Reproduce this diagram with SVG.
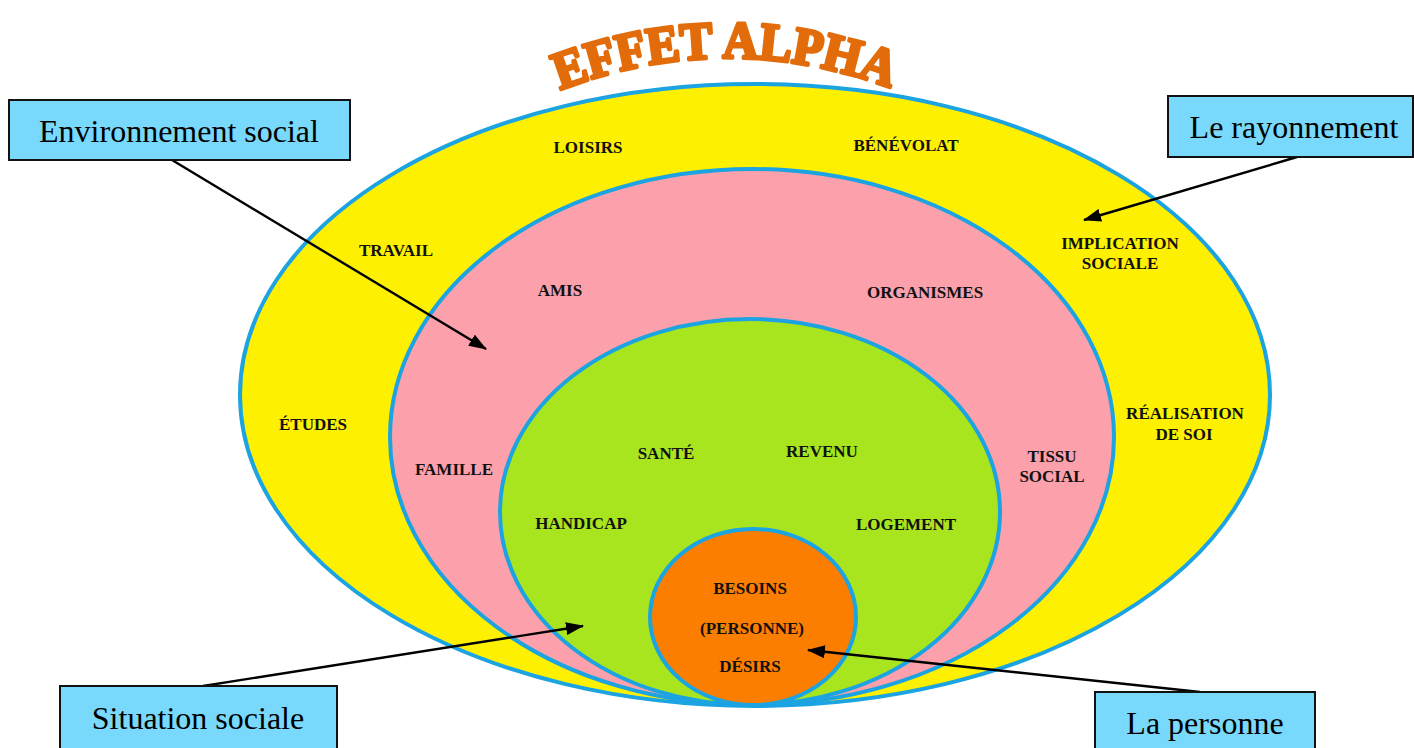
<svg xmlns="http://www.w3.org/2000/svg" width="1414" height="748" viewBox="0 0 1414 748">
<style>
.ring{stroke:#1ba3e2;stroke-width:4}
.lbl{font-family:"Liberation Serif",serif;font-weight:bold;font-size:17px;fill:#111;text-anchor:middle}
.box rect{fill:#79d9fc;stroke:#111;stroke-width:2}
.box text{font-family:"Liberation Serif",serif;font-size:32px;fill:#000;text-anchor:middle}
.conn line{stroke:#000;stroke-width:2.4}
.title{font-family:"Liberation Serif",serif;font-weight:bold;font-size:53px;fill:#e36c0a;stroke:#e36c0a;stroke-width:3.5;stroke-linejoin:round}
</style>
<defs>
<marker id="ah" markerWidth="18" markerHeight="13" refX="17" refY="6.5" orient="auto" markerUnits="userSpaceOnUse" viewBox="0 0 18 13">
<path d="M0,0 L18,6.5 L0,13 Z" fill="#000"/>
</marker>
<path id="arc" d="M 560 90 Q 728 26 896 90"/>
</defs>
<rect width="1414" height="748" fill="#fff"/>
<g id="title"><text class="title"><textPath href="#arc" textLength="338" lengthAdjust="spacingAndGlyphs">EFFET ALPHA</textPath></text></g>
<g id="rayonnement-ring"><ellipse class="ring" cx="755" cy="395" rx="515" ry="311" fill="#fdf000"/></g>
<g id="environnement-ring"><ellipse class="ring" cx="752" cy="437" rx="362" ry="268" fill="#fca0ab"/></g>
<g id="situation-ring"><ellipse class="ring" cx="750" cy="512" rx="250" ry="193" fill="#a8e51f"/></g>
<g id="personne-ring"><ellipse class="ring" cx="753" cy="617" rx="103" ry="88" fill="#fb7e00"/></g>
<g id="labels">
<text class="lbl" x="588" y="153">LOISIRS</text>
<text class="lbl" x="906" y="151">BÉNÉVOLAT</text>
<text class="lbl" x="396" y="256">TRAVAIL</text>
<text class="lbl" x="1120" y="249">IMPLICATION</text>
<text class="lbl" x="1120" y="269">SOCIALE</text>
<text class="lbl" x="560" y="296">AMIS</text>
<text class="lbl" x="925" y="298">ORGANISMES</text>
<text class="lbl" x="313" y="430">ÉTUDES</text>
<text class="lbl" x="1185" y="419">RÉALISATION</text>
<text class="lbl" x="1184" y="440">DE SOI</text>
<text class="lbl" x="454" y="475">FAMILLE</text>
<text class="lbl" x="666" y="459">SANTÉ</text>
<text class="lbl" x="822" y="457">REVENU</text>
<text class="lbl" x="1052" y="462">TISSU</text>
<text class="lbl" x="1052" y="482">SOCIAL</text>
<text class="lbl" x="581" y="529">HANDICAP</text>
<text class="lbl" x="906" y="530">LOGEMENT</text>
<text class="lbl" x="750" y="594">BESOINS</text>
<text class="lbl" x="752" y="634">(PERSONNE)</text>
<text class="lbl" x="750" y="672">DÉSIRS</text>
</g>
<g id="connectors" class="conn">
<line x1="172" y1="160" x2="486" y2="349" marker-end="url(#ah)"/>
<line x1="1297" y1="157" x2="1084" y2="220" marker-end="url(#ah)"/>
<line x1="203" y1="686" x2="583" y2="626" marker-end="url(#ah)"/>
<line x1="1200" y1="692" x2="808" y2="650" marker-end="url(#ah)"/>
</g>
<g id="box-environnement" class="box"><rect x="9" y="100" width="341" height="60"/><text x="179" y="142">Environnement social</text></g>
<g id="box-rayonnement" class="box"><rect x="1168" y="96" width="245" height="61"/><text x="1294" y="138">Le rayonnement</text></g>
<g id="box-situation" class="box"><rect x="60" y="686" width="277" height="70"/><text x="198" y="729">Situation sociale</text></g>
<g id="box-personne" class="box"><rect x="1095" y="692" width="220" height="64"/><text x="1205" y="734">La personne</text></g>
</svg>
